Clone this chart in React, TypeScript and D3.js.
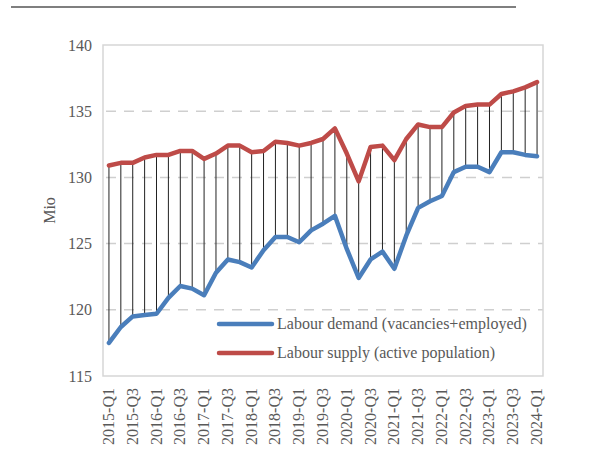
import React from "react";
import * as d3 from "d3";

// Quarters on the category axis
const quarters = [
  "2015-Q1", "2015-Q2", "2015-Q3", "2015-Q4",
  "2016-Q1", "2016-Q2", "2016-Q3", "2016-Q4",
  "2017-Q1", "2017-Q2", "2017-Q3", "2017-Q4",
  "2018-Q1", "2018-Q2", "2018-Q3", "2018-Q4",
  "2019-Q1", "2019-Q2", "2019-Q3", "2019-Q4",
  "2020-Q1", "2020-Q2", "2020-Q3", "2020-Q4",
  "2021-Q1", "2021-Q2", "2021-Q3", "2021-Q4",
  "2022-Q1", "2022-Q2", "2022-Q3", "2022-Q4",
  "2023-Q1", "2023-Q2", "2023-Q3", "2023-Q4",
  "2024-Q1",
];

// Labour demand (vacancies + employed), millions
const demand = [
  117.5, 118.7, 119.5, 119.6, 119.7, 120.9, 121.8, 121.6, 121.1, 122.8,
  123.8, 123.6, 123.2, 124.5, 125.5, 125.5, 125.1, 126.0, 126.5, 127.1,
  124.6, 122.4, 123.8, 124.4, 123.1, 125.6, 127.7, 128.2, 128.6, 130.4,
  130.8, 130.8, 130.4, 131.9, 131.9, 131.7, 131.6,
];

// Labour supply (active population), millions
const supply = [
  130.9, 131.1, 131.1, 131.5, 131.7, 131.7, 132.0, 132.0, 131.4, 131.8,
  132.4, 132.4, 131.9, 132.0, 132.7, 132.6, 132.4, 132.6, 132.9, 133.7,
  131.8, 129.7, 132.3, 132.4, 131.3, 132.9, 134.0, 133.8, 133.8, 134.9,
  135.4, 135.5, 135.5, 136.3, 136.5, 136.8, 137.2,
];

const yTicks = [115, 120, 125, 130, 135, 140];

const W = 589, H = 462;
const left = 103, right = 543, top = 45, bottom = 376;
const font = "Liberation Serif, DejaVu Serif, serif";
const textColor = "#595959";
const blue = "#4a7ebb";
const red = "#be4b48";

const App = () => {
  const x = d3.scalePoint<string>().domain(quarters).range([left, right]).padding(0.5);
  const y = d3.scaleLinear().domain([115, 140]).range([bottom, top]);

  const line = d3.line<number>()
    .x((_, i) => x(quarters[i])!)
    .y((d) => y(d));

  const legend = [
    { label: "Labour demand (vacancies+employed)", color: blue, ly: 324 },
    { label: "Labour supply (active population)", color: red, ly: 353 },
  ];

  const txt = { fontFamily: font, fontSize: 16, fill: textColor };

  return (
    <svg width={W} height={H} style={{ position: "fixed", left: 0, top: 0, display: "block", background: "#fff" }}>
      {/* top rule */}
      <line x1={11} x2={516} y1={7} y2={7} stroke="#000" strokeWidth={1.2} />

      {/* gridlines */}
      {yTicks.filter(t => t !== 115 && t !== 140).map(t => (
        <line key={t} x1={left} x2={right} y1={y(t)} y2={y(t)}
          stroke="#cfcfcf" strokeWidth={1.5} strokeDasharray="10,8" strokeDashoffset={-3} />
      ))}

      {/* plot border */}
      <rect x={left} y={top} width={right - left} height={bottom - top}
        fill="none" stroke="#d6d6d6" strokeWidth={1.5} />

      {/* y tick labels */}
      {yTicks.map(t => (
        <text key={t} x={92} y={y(t)} dy="0.35em" textAnchor="end" style={txt}>{t}</text>
      ))}

      {/* y axis title */}
      <text transform={`translate(55, ${(top + bottom) / 2}) rotate(-90)`} textAnchor="middle" style={txt}>Mio</text>

      {/* x tick labels, every second quarter */}
      {quarters.map((q, i) => i % 2 === 0 ? (
        <text key={q} transform={`translate(${x(q)! + 5}, ${bottom + 12}) rotate(-90)`}
          textAnchor="end" style={txt}>{q}</text>
      ) : null)}

      {/* drop lines between supply and demand */}
      {quarters.map((q, i) => (
        <line key={q} x1={x(q)} x2={x(q)} y1={y(supply[i])} y2={y(demand[i])}
          stroke="#222" strokeWidth={1} />
      ))}

      <path d={line(demand) ?? ""} fill="none" stroke={blue} strokeWidth={4.5}
        strokeLinejoin="round" strokeLinecap="round" />
      <path d={line(supply) ?? ""} fill="none" stroke={red} strokeWidth={4.5}
        strokeLinejoin="round" strokeLinecap="round" />

      {/* legend */}
      {legend.map(l => (
        <g key={l.label}>
          <line x1={219} x2={272} y1={l.ly} y2={l.ly} stroke={l.color} strokeWidth={4.5} strokeLinecap="round" />
          <text x={277} y={l.ly} dy="0.32em" style={txt}>{l.label}</text>
        </g>
      ))}
    </svg>
  );
};

export default App;
